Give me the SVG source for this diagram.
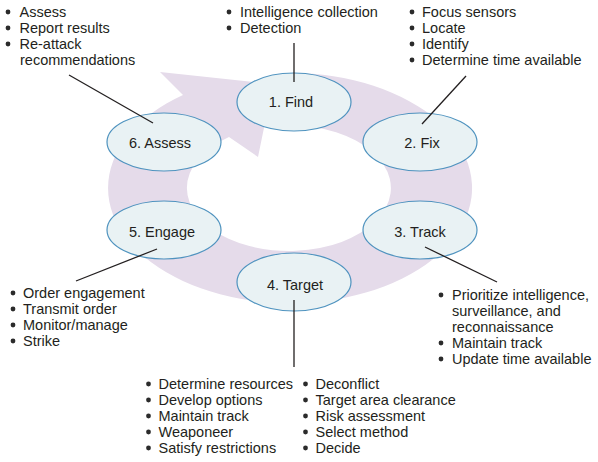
<svg xmlns="http://www.w3.org/2000/svg" width="598" height="462" viewBox="0 0 598 462">
<style>
  .ring { fill: #e5dbea; stroke: none; }
  .node ellipse { fill: #e9f2f4; stroke: #4f93bf; stroke-width: 1.2; }
  .label { font-family: "Liberation Sans", Arial, sans-serif; font-size: 14.5px; fill: #231f20; text-anchor: middle; }
  .note text { font-family: "Liberation Sans", Arial, sans-serif; font-size: 14.5px; fill: #231f20; }
  .note circle { fill: #2b2b2b; }
  .connectors line { stroke: #231f20; stroke-width: 1.3; }
</style>
<rect width="598" height="462" fill="#ffffff"/>

<path class="ring" d="M 291 73 A 182 115 0 1 1 183 95 L 160 72 L 273 84 L 258 157 L 229 137 A 102 63 0 1 0 290 125 Z"/>

<g id="node-find" class="node">
  <ellipse cx="294" cy="102" rx="57" ry="29"/>
  <text class="label" x="291" y="107">1. Find</text>
</g>
<g id="node-fix" class="node">
  <ellipse cx="420" cy="142" rx="57" ry="29"/>
  <text class="label" x="422" y="148">2. Fix</text>
</g>
<g id="node-track" class="node">
  <ellipse cx="420" cy="230" rx="57" ry="29"/>
  <text class="label" x="420" y="237">3. Track</text>
</g>
<g id="node-target" class="node">
  <ellipse cx="294" cy="282" rx="57" ry="29"/>
  <text class="label" x="295" y="290">4. Target</text>
</g>
<g id="node-engage" class="node">
  <ellipse cx="164" cy="230" rx="57" ry="29"/>
  <text class="label" x="162" y="237">5. Engage</text>
</g>
<g id="node-assess" class="node">
  <ellipse cx="164" cy="142" rx="57" ry="29"/>
  <text class="label" x="160" y="148">6. Assess</text>
</g>

<g id="connectors" class="connectors">
  <line x1="69" y1="75" x2="153" y2="123"/>
  <line x1="294" y1="43" x2="294" y2="82"/>
  <line x1="466" y1="76" x2="422" y2="124"/>
  <line x1="425" y1="247" x2="497" y2="282"/>
  <line x1="294" y1="300" x2="294" y2="367"/>
  <line x1="157" y1="249" x2="76" y2="281"/>
</g>

<g id="note-assess" class="note">
  <circle cx="8" cy="12" r="2.4"/><text x="19.5" y="17">Assess</text>
  <circle cx="8" cy="28" r="2.4"/><text x="19.5" y="33">Report results</text>
  <circle cx="8" cy="44" r="2.4"/><text x="19.5" y="49">Re-attack</text>
  <text x="20" y="65">recommendations</text>
</g>
<g id="note-find" class="note">
  <circle cx="229" cy="12" r="2.4"/><text x="240" y="17">Intelligence collection</text>
  <circle cx="229" cy="28" r="2.4"/><text x="240" y="33">Detection</text>
</g>
<g id="note-fix" class="note">
  <circle cx="412" cy="12" r="2.4"/><text x="422" y="17">Focus sensors</text>
  <circle cx="412" cy="28" r="2.4"/><text x="422" y="33">Locate</text>
  <circle cx="412" cy="44" r="2.4"/><text x="422" y="49">Identify</text>
  <circle cx="412" cy="60" r="2.4"/><text x="422" y="65">Determine time available</text>
</g>
<g id="note-track" class="note">
  <circle cx="441" cy="295" r="2.4"/><text x="452" y="300">Prioritize intelligence,</text>
  <text x="452" y="316">surveillance, and</text>
  <text x="452" y="332">reconnaissance</text>
  <circle cx="441" cy="343" r="2.4"/><text x="452" y="348">Maintain track</text>
  <circle cx="441" cy="359" r="2.4"/><text x="452" y="364">Update time available</text>
</g>
<g id="note-target" class="note">
  <circle cx="148.5" cy="384" r="2.4"/><text x="158.5" y="389">Determine resources</text>
  <circle cx="148.5" cy="400" r="2.4"/><text x="158.5" y="405">Develop options</text>
  <circle cx="148.5" cy="416" r="2.4"/><text x="158.5" y="421">Maintain track</text>
  <circle cx="148.5" cy="432" r="2.4"/><text x="158.5" y="437">Weaponeer</text>
  <circle cx="148.5" cy="448" r="2.4"/><text x="158.5" y="453">Satisfy restrictions</text>
  <circle cx="305.5" cy="384" r="2.4"/><text x="315.5" y="389">Deconflict</text>
  <circle cx="305.5" cy="400" r="2.4"/><text x="315.5" y="405">Target area clearance</text>
  <circle cx="305.5" cy="416" r="2.4"/><text x="315.5" y="421">Risk assessment</text>
  <circle cx="305.5" cy="432" r="2.4"/><text x="315.5" y="437">Select method</text>
  <circle cx="305.5" cy="448" r="2.4"/><text x="315.5" y="453">Decide</text>
</g>
<g id="note-engage" class="note">
  <circle cx="13" cy="293" r="2.4"/><text x="23" y="298">Order engagement</text>
  <circle cx="13" cy="309" r="2.4"/><text x="23" y="314">Transmit order</text>
  <circle cx="13" cy="325" r="2.4"/><text x="23" y="330">Monitor/manage</text>
  <circle cx="13" cy="341" r="2.4"/><text x="23" y="346">Strike</text>
</g>
</svg>
